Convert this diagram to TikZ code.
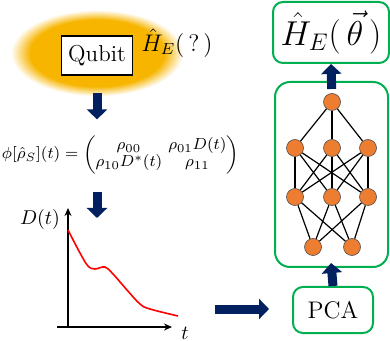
\documentclass[tikz,border=0pt]{standalone}
\usepackage{amsmath}
\usetikzlibrary{arrows.meta}
\definecolor{GlowAmber}{HTML}{F7B500}
\definecolor{ArrowNavy}{HTML}{002060}
\definecolor{BoxGreen}{HTML}{00B050}
\definecolor{NeuronOrange}{HTML}{ED7D31}
\pgfdeclareradialshading{qubitglow}{\pgfpoint{0bp}{0bp}}{color(0bp)=(GlowAmber);color(19bp)=(GlowAmber);color(24.5bp)=(white);color(50bp)=(white)}

\begin{document}
\begin{tikzpicture}[x=0.5pt,y=-0.5pt,
  flow/.style={ArrowNavy,line width=4.5pt,-{Triangle[width=10pt,length=5pt]}},
  greenbox/.style={draw=BoxGreen,line width=1pt,rounded corners=5pt},
  neuron/.style={circle,fill=NeuronOrange,draw=black!70,line width=0.3pt,inner sep=0pt,minimum size=8.5pt},
  axis/.style={line width=1pt,-{Stealth[length=4pt,width=3.5pt]}}]
  \useasboundingbox (0,0) rectangle (390,341);
  \shade[shading=qubitglow] (97,53) ellipse [x radius=88, y radius=44];
  \node[draw,fill=white,line width=0.6pt,minimum width=35pt,minimum height=19.5pt,font=\fontsize{11.5}{13}\selectfont] (qubit) at (97,55.5) {Qubit};
  \node[font=\fontsize{11.5}{14}\selectfont] (henv) at (177,43) {$\hat{H}_E(\,?\,)$};
  \node[inner sep=0pt,font=\fontsize{8.4}{10}\selectfont] (rho) at (120.5,155) {\setlength\arraycolsep{1.5pt}\renewcommand\arraystretch{0.85}$\phi[\hat{\rho}_S](t)=\begin{pmatrix}\rho_{00}&\rho_{01}D(t)\\\rho_{10}D^*(t)&\rho_{11}\end{pmatrix}$};
  \draw[flow,shorten <=8.5pt,shorten >=8pt] (qubit.south) -- (qubit.south |- rho.north);
  \coordinate (dtop) at (97,218);
  \draw[flow] (qubit.south |- rho.south) ++(0,17) -- (dtop);
  \draw[axis] (57,327) -- (172,327);
  \draw[axis] (68,327) -- (68,208);
  \node (dlab) at (40,220) {$D(t)$};
  \node (tlab) at (185,333) {$t$};
  \draw[red,line width=0.8pt] plot[smooth,tension=0.6] coordinates {(68,230) (80,253) (88,266) (95,269) (105,267) (113,274) (127,290) (140,304) (150,309) (178,316)};
  \node[greenbox,minimum width=58pt,minimum height=30.5pt,font=\fontsize{17}{20}\selectfont] (htheta) at (331,32.5) {$\hat{H}_E(\,\vec{\theta}\,)$};
  \node[greenbox,rounded corners=7.5pt,minimum width=56.5pt,minimum height=92.5pt] (net) at (331.5,174.5) {};
  \node[greenbox,minimum width=40pt,minimum height=23pt,font=\large] (pca) at (333,310) {PCA};
  \node[neuron] (n1) at (332,102) {};
  \foreach \i/\x in {1/295,2/332,3/368}{\node[neuron] (a\i) at (\x,148) {};\node[neuron] (b\i) at (\x,197) {};}
  \foreach \i/\x in {1/313,2/352}{\node[neuron] (c\i) at (\x,247) {};}
  \foreach \i in {1,2,3}{\draw[line width=0.6pt] (n1) -- (a\i);\foreach \j in {1,2,3}{\draw[line width=0.6pt] (a\i) -- (b\j);}\foreach \j in {1,2}{\draw[line width=0.6pt] (b\i) -- (c\j);}}
  \coordinate (dout) at (215,309);
  \draw[flow,shorten >=11.5pt] (dout) -- (pca.west |- dout);
  \draw[flow,shorten >=-2.5pt] (pca.north) -- (net.south);
  \draw[flow,shorten <=-4pt] (net.north) -- (htheta.south);
\end{tikzpicture}
\end{document}
